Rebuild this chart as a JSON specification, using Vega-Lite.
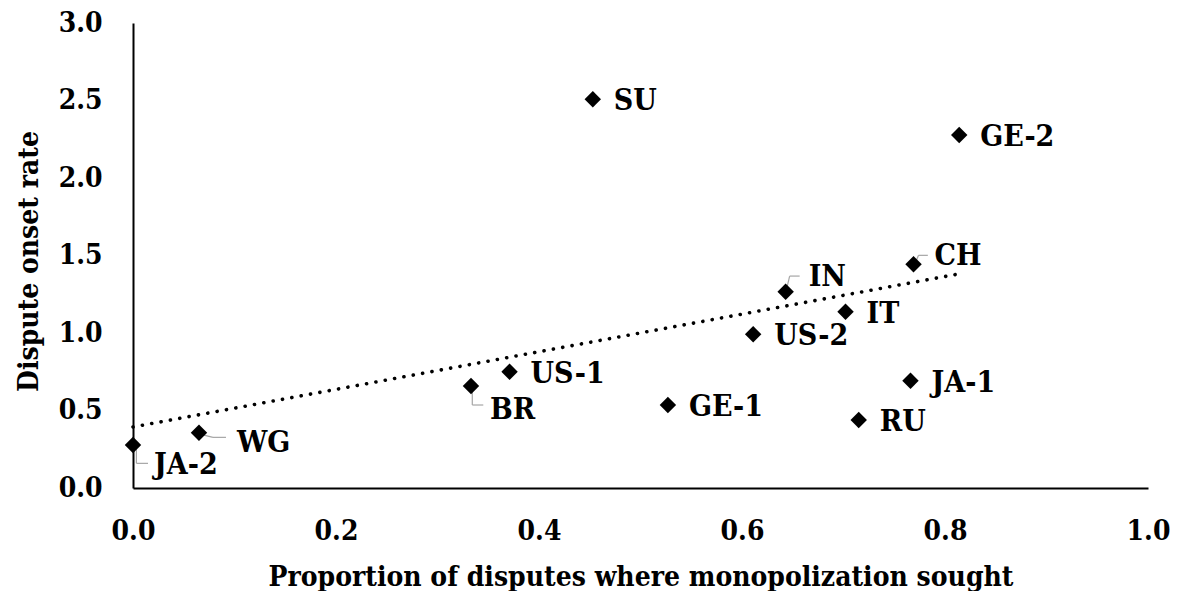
{
  "$schema": "https://vega.github.io/schema/vega-lite/v6.json",
  "width": 1015,
  "height": 465,
  "autosize": {"type": "none"},
  "padding": {"left": 133, "top": 23, "right": 33, "bottom": 103},
  "background": "white",
  "config": {
    "view": {"stroke": null},
    "font": "DejaVu Serif Condensed, DejaVu Serif, serif",
    "text": {"font": "DejaVu Serif Condensed, DejaVu Serif, serif", "fontWeight": "bold", "fontSize": 30, "color": "black", "align": "left", "baseline": "middle"},
    "rule": {"color": "#a6a6a6", "strokeWidth": 1.2}
  },
  "data": {
    "values": [
      {"country": "JA-2", "prop": 0.0, "rate": 0.277},
      {"country": "WG", "prop": 0.065, "rate": 0.357},
      {"country": "BR", "prop": 0.333, "rate": 0.658},
      {"country": "US-1", "prop": 0.371, "rate": 0.75},
      {"country": "SU", "prop": 0.453, "rate": 2.508},
      {"country": "GE-1", "prop": 0.527, "rate": 0.535},
      {"country": "US-2", "prop": 0.611, "rate": 0.992},
      {"country": "IN", "prop": 0.643, "rate": 1.266},
      {"country": "IT", "prop": 0.702, "rate": 1.137},
      {"country": "RU", "prop": 0.715, "rate": 0.439},
      {"country": "JA-1", "prop": 0.766, "rate": 0.692},
      {"country": "CH", "prop": 0.769, "rate": 1.443},
      {"country": "GE-2", "prop": 0.814, "rate": 2.277}
    ]
  },
  "encoding": {
    "x": {
      "field": "prop",
      "type": "quantitative",
      "scale": {"domain": [0, 1], "nice": false},
      "axis": {
        "title": "Proportion of disputes where monopolization sought",
        "values": [0, 0.2, 0.4, 0.6, 0.8, 1.0],
        "format": ".1f",
        "grid": false,
        "ticks": false,
        "domainColor": "black",
        "domainWidth": 2,
        "labelFont": "DejaVu Serif Condensed, DejaVu Serif, serif",
        "labelFontWeight": "bold",
        "labelFontSize": 28,
        "labelColor": "black",
        "labelPadding": 29,
        "labelBaseline": "top",
        "labelFlush": false,
        "labelOverlap": false,
        "titleFont": "DejaVu Serif Condensed, DejaVu Serif, serif",
        "titleFontWeight": "bold",
        "titleFontSize": 28,
        "titleColor": "black",
        "titleBaseline": "alphabetic",
        "titleY": 97
      }
    },
    "y": {
      "field": "rate",
      "type": "quantitative",
      "scale": {"domain": [0, 3], "nice": false},
      "axis": {
        "title": "Dispute onset rate",
        "values": [0, 0.5, 1.0, 1.5, 2.0, 2.5, 3.0],
        "format": ".1f",
        "grid": false,
        "ticks": false,
        "domainColor": "black",
        "domainWidth": 2,
        "labelFont": "DejaVu Serif Condensed, DejaVu Serif, serif",
        "labelFontWeight": "bold",
        "labelFontSize": 28,
        "labelColor": "black",
        "labelPadding": 31,
        "labelOverlap": false,
        "labelFlush": false,
        "titleFont": "DejaVu Serif Condensed, DejaVu Serif, serif",
        "titleFontWeight": "bold",
        "titleFontSize": 28,
        "titleColor": "black",
        "titleAngle": 270,
        "titleAlign": "center",
        "titleBaseline": "alphabetic",
        "titleX": -96,
        "titleY": 238
      }
    }
  },
  "layer": [
    {
      "transform": [{"regression": "rate", "on": "prop"}],
      "mark": {"type": "line", "color": "black", "strokeWidth": 3.6, "strokeDash": [0.1, 9.4], "strokeCap": "round"},
      "encoding": {}
    },
    {
      "transform": [{"filter": "datum.country === 'JA-2'"}],
      "mark": {"type": "rule", "xOffset": 3.4, "yOffset": 2, "x2Offset": 3.4, "y2Offset": 18.3},
      "encoding": {"x2": {"field": "prop"}, "y2": {"field": "rate"}}
    },
    {
      "transform": [{"filter": "datum.country === 'JA-2'"}],
      "mark": {"type": "rule", "xOffset": 3.4, "yOffset": 18.3, "x2Offset": 15, "y2Offset": 18.3},
      "encoding": {"x2": {"field": "prop"}, "y2": {"field": "rate"}}
    },
    {
      "transform": [{"filter": "datum.country === 'WG'"}],
      "mark": {"type": "rule", "xOffset": 3, "yOffset": 2, "x2Offset": 14, "y2Offset": 4.7},
      "encoding": {"x2": {"field": "prop"}, "y2": {"field": "rate"}}
    },
    {
      "transform": [{"filter": "datum.country === 'WG'"}],
      "mark": {"type": "rule", "xOffset": 14, "yOffset": 4.7, "x2Offset": 27, "y2Offset": 4.7},
      "encoding": {"x2": {"field": "prop"}, "y2": {"field": "rate"}}
    },
    {
      "transform": [{"filter": "datum.country === 'BR'"}],
      "mark": {"type": "rule", "xOffset": 1.3, "yOffset": 4, "x2Offset": 1.3, "y2Offset": 19},
      "encoding": {"x2": {"field": "prop"}, "y2": {"field": "rate"}}
    },
    {
      "transform": [{"filter": "datum.country === 'BR'"}],
      "mark": {"type": "rule", "xOffset": 1.3, "yOffset": 19, "x2Offset": 12.3, "y2Offset": 19},
      "encoding": {"x2": {"field": "prop"}, "y2": {"field": "rate"}}
    },
    {
      "transform": [{"filter": "datum.country === 'IN'"}],
      "mark": {"type": "rule", "xOffset": 0.7, "yOffset": -1.7, "x2Offset": 4, "y2Offset": -15.7},
      "encoding": {"x2": {"field": "prop"}, "y2": {"field": "rate"}}
    },
    {
      "transform": [{"filter": "datum.country === 'IN'"}],
      "mark": {"type": "rule", "xOffset": 4, "yOffset": -15.7, "x2Offset": 14, "y2Offset": -15.7},
      "encoding": {"x2": {"field": "prop"}, "y2": {"field": "rate"}}
    },
    {
      "transform": [{"filter": "datum.country === 'CH'"}],
      "mark": {"type": "rule", "xOffset": 1.7, "yOffset": -1.3, "x2Offset": 5, "y2Offset": -9},
      "encoding": {"x2": {"field": "prop"}, "y2": {"field": "rate"}}
    },
    {
      "transform": [{"filter": "datum.country === 'CH'"}],
      "mark": {"type": "rule", "xOffset": 5, "yOffset": -9, "x2Offset": 14.3, "y2Offset": -9},
      "encoding": {"x2": {"field": "prop"}, "y2": {"field": "rate"}}
    },
    {
      "mark": {"type": "point", "shape": "diamond", "filled": true, "color": "black", "opacity": 1, "size": 270}
    },
    {
      "transform": [{"filter": {"field": "country", "oneOf": ["SU", "GE-2", "GE-1", "US-2", "IT", "RU", "JA-1", "US-1"]}}],
      "mark": {"type": "text", "dx": 21, "dy": 2},
      "encoding": {"text": {"field": "country"}}
    },
    {
      "transform": [{"filter": "datum.country === 'JA-2'"}],
      "mark": {"type": "text", "dx": 21, "dy": 20},
      "encoding": {"text": {"field": "country"}}
    },
    {
      "transform": [{"filter": "datum.country === 'WG'"}],
      "mark": {"type": "text", "dx": 38, "dy": 10},
      "encoding": {"text": {"field": "country"}}
    },
    {
      "transform": [{"filter": "datum.country === 'BR'"}],
      "mark": {"type": "text", "dx": 19, "dy": 23.5},
      "encoding": {"text": {"field": "country"}}
    },
    {
      "transform": [{"filter": "datum.country === 'IN'"}],
      "mark": {"type": "text", "dx": 23, "dy": -15},
      "encoding": {"text": {"field": "country"}}
    },
    {
      "transform": [{"filter": "datum.country === 'CH'"}],
      "mark": {"type": "text", "dx": 21, "dy": -8},
      "encoding": {"text": {"field": "country"}}
    }
  ]
}
